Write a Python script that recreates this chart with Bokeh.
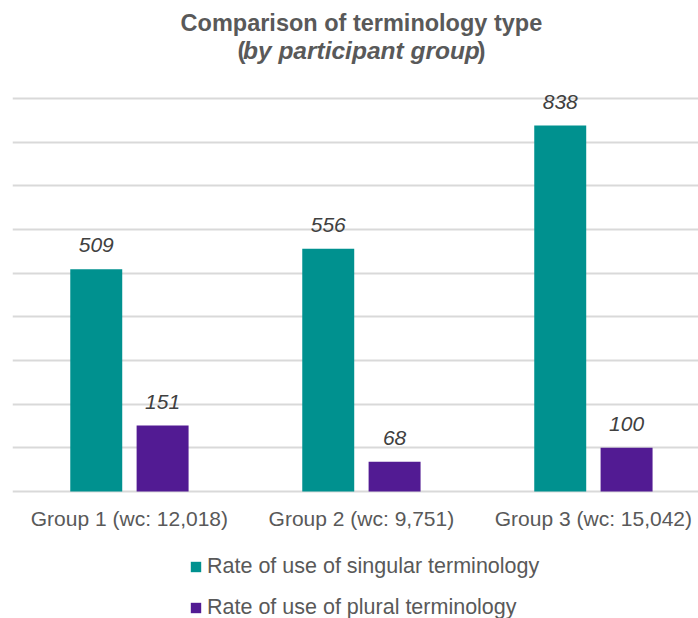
from bokeh.plotting import figure
from bokeh.models import (ColumnDataSource, Range1d, FixedTicker, Label, Legend, LegendItem)
from bokeh.core.properties import value
from bokeh.transform import dodge
from bokeh.embed import file_html
from bokeh.resources import INLINE

# ---- data ----
groups = ["Group 1 (wc: 12,018)", "Group 2 (wc: 9,751)", "Group 3 (wc: 15,042)"]
singular = [509, 556, 838]
plural = [151, 68, 100]
series_names = ["Rate of use of singular terminology", "Rate of use of plural terminology"]
y_ticks = [0, 100, 200, 300, 400, 500, 600, 700, 800, 900]

TEAL = "#00918F"
PURPLE = "#521B93"
GRAY = "#595959"
FONT = "Liberation Sans"

idx = list(range(len(groups)))
src = ColumnDataSource(dict(
    x=idx,
    singular=singular,
    plural=plural,
    singular_lbl=[str(v) for v in singular],
    plural_lbl=[str(v) for v in plural],
))

p = figure(width=698, height=618, output_backend="svg", toolbar_location=None,
           x_range=Range1d(-0.504, 2.453), y_range=Range1d(-290.8, 1124.4),
           min_border_left=12, min_border_right=0, min_border_top=0, min_border_bottom=0)
p.outline_line_color = None
p.background_fill_color = "white"

# bars
r1 = p.vbar(x=dodge("x", -0.143, range=p.x_range), top="singular", width=0.224,
            source=src, fill_color=TEAL, line_color=None)
r2 = p.vbar(x=dodge("x", 0.143, range=p.x_range), top="plural", width=0.224,
            source=src, fill_color=PURPLE, line_color=None)

# value labels
for col, off in (("singular", -0.143), ("plural", 0.143)):
    p.text(x=dodge("x", off, range=p.x_range), y=col, text=col + "_lbl", source=src,
           text_align="center", text_baseline="middle", y_offset=-24,
           text_font_size="21px", text_font_style="italic", text_color="#404040",
           text_font=value(FONT))

# axes
p.yaxis.visible = False
p.xaxis.fixed_location = 0
p.xaxis.ticker = FixedTicker(ticks=idx)
p.xaxis.major_label_overrides = {i: g for i, g in zip(idx, groups)}
p.xaxis.major_label_text_font = FONT
p.xaxis.major_label_text_font_size = "21px"
p.xaxis.major_label_text_color = GRAY
p.xaxis.major_label_standoff = 9
p.xaxis.major_tick_line_color = None
p.xaxis.minor_tick_line_color = None
p.xaxis.axis_line_color = None

p.xgrid.visible = False
p.ygrid.ticker = FixedTicker(ticks=y_ticks)
p.ygrid.grid_line_color = "#d9d9d9"
p.ygrid.grid_line_width = 2

# title (two lines, second with italic part)
TW = 232
p.add_layout(Label(x=1, y=1074, text="Comparison of terminology type", text_align="center",
                   text_baseline="middle", text_font=FONT, text_font_size="23.5px",
                   text_font_style="bold", text_color=GRAY))
p.add_layout(Label(x=1, y=1010, text="by participant group", text_align="center",
                   text_baseline="middle", text_font=FONT, text_font_size="24.5px",
                   text_font_style="bold italic", text_color=GRAY))
p.add_layout(Label(x=1, y=1010, x_offset=-TW / 2, text="(", text_align="right",
                   text_baseline="middle", text_font=FONT, text_font_size="24px",
                   text_font_style="bold", text_color=GRAY))
p.add_layout(Label(x=1, y=1010, x_offset=TW / 2, text=")", text_align="left",
                   text_baseline="middle", text_font=FONT, text_font_size="24px",
                   text_font_style="bold", text_color=GRAY))

legend = Legend(items=[LegendItem(label=series_names[0], renderers=[r1]),
                       LegendItem(label=series_names[1], renderers=[r2])],
                location=(177, -2), orientation="vertical",
                glyph_width=13, glyph_height=13, label_standoff=5, spacing=16,
                label_height=22,
                label_text_font=FONT, label_text_font_size="21.5px", label_text_color=GRAY,
                border_line_color=None, background_fill_alpha=0, padding=0, margin=0)
p.add_layout(legend)

open("out.html", "w").write(file_html(p, INLINE))
